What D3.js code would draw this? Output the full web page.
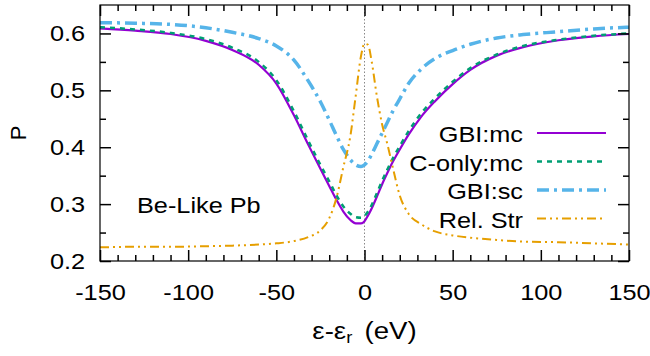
<!DOCTYPE html>
<html>
<head>
<meta charset="utf-8">
<script src="https://cdn.jsdelivr.net/npm/d3@7"></script>
<style>
  body { margin: 0; background: #fff; }
  svg { display: block; }
  text { font-family: "Liberation Sans", Arial, sans-serif; }
</style>
</head>
<body>
<div id="chart"></div>
<script>
const width = 650;
const height = 356;
const margin = { top: 5, right: 21, bottom: 95, left: 100 };

// energy offset from resonance (eV)
const energy = [-150, -130, -110, -90, -75, -60, -50, -40, -32, -25, -20, -16, -12, -8, -5, -2, 0, 2, 4, 7, 10, 13, 16, 20, 25, 32, 40, 50, 60, 75, 90, 110, 130, 150];

const gbiMc = [0.609, 0.605, 0.599, 0.587, 0.571, 0.545, 0.512, 0.456, 0.405, 0.362, 0.332, 0.308, 0.287, 0.272, 0.266, 0.266, 0.270, 0.280, 0.292, 0.313, 0.335, 0.355, 0.374, 0.396, 0.422, 0.453, 0.481, 0.511, 0.536, 0.561, 0.576, 0.588, 0.595, 0.599];
const cOnlyMc = [0.611, 0.607, 0.601, 0.590, 0.575, 0.550, 0.518, 0.463, 0.412, 0.369, 0.340, 0.316, 0.296, 0.283, 0.277, 0.276, 0.279, 0.287, 0.298, 0.319, 0.341, 0.361, 0.380, 0.402, 0.428, 0.459, 0.486, 0.515, 0.539, 0.563, 0.578, 0.589, 0.596, 0.600];
const gbiSc = [0.619, 0.618, 0.616, 0.610, 0.602, 0.591, 0.578, 0.553, 0.517, 0.480, 0.448, 0.421, 0.396, 0.378, 0.369, 0.366, 0.369, 0.376, 0.387, 0.406, 0.425, 0.444, 0.463, 0.485, 0.512, 0.537, 0.556, 0.570, 0.581, 0.592, 0.598, 0.603, 0.608, 0.611];
const relStr = [0.224, 0.225, 0.225, 0.226, 0.227, 0.229, 0.231, 0.235, 0.242, 0.254, 0.275, 0.310, 0.365, 0.420, 0.490, 0.560, 0.582, 0.580, 0.552, 0.490, 0.440, 0.405, 0.365, 0.315, 0.283, 0.265, 0.252, 0.245, 0.241, 0.237, 0.234, 0.233, 0.231, 0.229];

const xTicks = [-150, -100, -50, 0, 50, 100, 150];
const yTicks = [0.2, 0.3, 0.4, 0.5, 0.6];

const series = [
  { name: "GBI:mc", values: gbiMc, color: "#9400d3", width: 2.2, dash: null },
  { name: "C-only:mc", values: cOnlyMc, color: "#009e73", width: 2.5, dash: "5,5" },
  { name: "GBI:sc", values: gbiSc, color: "#56b4e9", width: 3.5, dash: "12,5,3,5" },
  { name: "Rel. Str", values: relStr, color: "#e69f00", width: 2, dash: "9,4,2,4,2,4" }
];

// the reference text is set a bit wider than Liberation Sans
const stretch = 1.15;
const fontSize = "22px";

const svg = d3.select("#chart")
  .append("svg")
  .attr("width", width)
  .attr("height", height);

const x = d3.scaleLinear().domain([-150, 150]).range([margin.left, width - margin.right]);
const y = d3.scaleLinear().domain([0.2, 0.65]).range([height - margin.bottom, margin.top]);

const plotG = svg.append("g");

// zero line
plotG.append("line")
  .attr("x1", x(0)).attr("x2", x(0))
  .attr("y1", y(0.65)).attr("y2", y(0.2))
  .attr("stroke", "#888")
  .attr("stroke-width", 1)
  .attr("stroke-dasharray", "1.5,2");

const line = d3.line()
  .x((d, i) => x(energy[i]))
  .y(d => y(d))
  .curve(d3.curveMonotoneX);

series.forEach(s => {
  plotG.append("path")
    .attr("d", line(s.values))
    .attr("fill", "none")
    .attr("stroke", s.color)
    .attr("stroke-width", s.width)
    .attr("stroke-dasharray", s.dash);
});

// --- axes ---
const majorLen = 11;
const minorLen = 6;

function styleAxis(g) {
  g.select(".domain").remove();
  g.selectAll(".tick line").attr("stroke", "#000").attr("stroke-width", 1.5);
  g.selectAll("text")
    .attr("fill", "#000")
    .attr("transform", `scale(${stretch},1)`)
    .style("font-size", fontSize);
}

const xMinor = d3.range(-150, 151, 10).filter(v => v % 50 !== 0);
const yMinor = [0.25, 0.35, 0.45, 0.55];

// bottom
svg.append("g")
  .attr("transform", `translate(0,${y(0.2)})`)
  .call(d3.axisBottom(x).tickValues(xTicks).tickSizeInner(-majorLen).tickSizeOuter(0).tickPadding(23).tickFormat(d => String(d)))
  .call(styleAxis);
svg.append("g")
  .attr("transform", `translate(0,${y(0.2)})`)
  .call(d3.axisBottom(x).tickValues(xMinor).tickSizeInner(-minorLen).tickSizeOuter(0).tickFormat(""))
  .call(styleAxis);
// top
svg.append("g")
  .attr("transform", `translate(0,${y(0.65)})`)
  .call(d3.axisTop(x).tickValues(xTicks).tickSizeInner(-majorLen).tickSizeOuter(0).tickFormat(""))
  .call(styleAxis);
svg.append("g")
  .attr("transform", `translate(0,${y(0.65)})`)
  .call(d3.axisTop(x).tickValues(xMinor).tickSizeInner(-minorLen).tickSizeOuter(0).tickFormat(""))
  .call(styleAxis);
// left
svg.append("g")
  .attr("transform", `translate(${x(-150)},0)`)
  .call(d3.axisLeft(y).tickValues(yTicks).tickSizeInner(-majorLen).tickSizeOuter(0).tickPadding(13).tickFormat(d3.format(".1f")))
  .call(styleAxis);
svg.append("g")
  .attr("transform", `translate(${x(-150)},0)`)
  .call(d3.axisLeft(y).tickValues(yMinor).tickSizeInner(-minorLen).tickSizeOuter(0).tickFormat(""))
  .call(styleAxis);
// right
svg.append("g")
  .attr("transform", `translate(${x(150)},0)`)
  .call(d3.axisRight(y).tickValues(yTicks).tickSizeInner(-majorLen).tickSizeOuter(0).tickFormat(""))
  .call(styleAxis);
svg.append("g")
  .attr("transform", `translate(${x(150)},0)`)
  .call(d3.axisRight(y).tickValues(yMinor).tickSizeInner(-minorLen).tickSizeOuter(0).tickFormat(""))
  .call(styleAxis);

// frame
svg.append("rect")
  .attr("x", x(-150)).attr("y", y(0.65))
  .attr("width", x(150) - x(-150))
  .attr("height", y(0.2) - y(0.65))
  .attr("fill", "none")
  .attr("stroke", "#000")
  .attr("stroke-width", 1.2);

// axis titles
svg.append("text")
  .attr("transform", `translate(26,133) rotate(-90)`)
  .attr("text-anchor", "middle")
  .style("font-size", fontSize)
  .text("P");

const xLabel = svg.append("text")
  .attr("transform", `translate(${x(0)},339) scale(${stretch},1)`)
  .attr("text-anchor", "middle")
  .style("font-size", "24px");
xLabel.append("tspan").text("ε-ε");
xLabel.append("tspan").attr("baseline-shift", "-25%").style("font-size", "16px").text("r");
xLabel.append("tspan").attr("dx", 4).text(" (eV)");

// annotation
svg.append("text")
  .attr("transform", `translate(137,213) scale(${stretch},1)`)
  .style("font-size", fontSize)
  .text("Be-Like Pb");

// legend
const legendRight = 523;
const legendY0 = 142;
const legendStep = 28.5;
series.forEach((s, i) => {
  const by = legendY0 + i * legendStep;
  svg.append("text")
    .attr("transform", `translate(${legendRight},${by}) scale(${stretch},1)`)
    .attr("text-anchor", "end")
    .style("font-size", fontSize)
    .text(s.name);
  svg.append("line")
    .attr("x1", 537).attr("x2", 606)
    .attr("y1", by - 9).attr("y2", by - 9)
    .attr("stroke", s.color)
    .attr("stroke-width", s.width)
    .attr("stroke-dasharray", s.dash);
});
</script>
</body>
</html>
